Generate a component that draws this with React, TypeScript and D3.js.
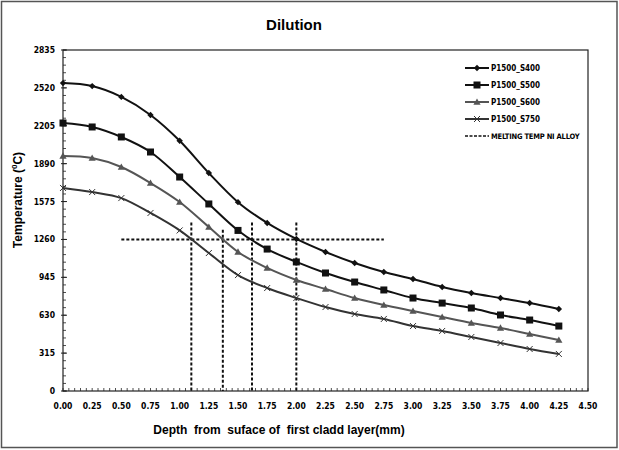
import * as d3 from 'd3';

const depth = [0, 0.25, 0.5, 0.75, 1.0, 1.25, 1.5, 1.75, 2.0, 2.25, 2.5, 2.75, 3.0, 3.25, 3.5, 3.75, 4.0, 4.25];
const s400 = [2560, 2535, 2445, 2295, 2080, 1812, 1570, 1397, 1264, 1156, 1064, 989, 931, 865, 815, 773, 731, 682];
const s500 = [2228, 2195, 2112, 1987, 1779, 1555, 1335, 1180, 1073, 981, 906, 840, 773, 731, 690, 632, 590, 540];
const s600 = [1954, 1937, 1862, 1729, 1571, 1363, 1156, 1023, 923, 848, 773, 715, 665, 615, 565, 524, 474, 424];
const s750 = [1688, 1654, 1604, 1480, 1335, 1147, 964, 856, 773, 698, 640, 599, 540, 499, 449, 399, 349, 308];
const seriesNames = ['P1500_S400', 'P1500_S500', 'P1500_S600', 'P1500_S750'];
const meltName = 'MELTING TEMP NI ALLOY';
const meltTemp = 1260;
const meltRange = [0.5, 2.75];
// depth where each series crosses the melting temp, and how high the guide goes
const crossDepth = [1.1, 1.37, 1.62, 2.0];
const crossTop = [1400, 1340, 1400, 1400];
const yTicks = [0, 315, 630, 945, 1260, 1575, 1890, 2205, 2520, 2835];
const xTicks = d3.range(0, 4.51, 0.25);

const W = 619;
const H = 450;
const margin = { top: 50, right: 31, bottom: 59, left: 63 };

const tickFont = "'Liberation Sans Narrow', 'DejaVu Sans Condensed', sans-serif";
const labelFont = "'Liberation Sans', Arial, sans-serif";

function Marker({ kind, x, y, color }: { kind: number; x: number; y: number; color: string }) {
  if (kind === 0) {
    const r = 3.2;
    return <path d={`M${x},${y - r}L${x + r},${y}L${x},${y + r}L${x - r},${y}Z`} fill={color} />;
  }
  if (kind === 1) {
    return <rect x={x - 3.5} y={y - 3.5} width={7} height={7} fill={color} />;
  }
  if (kind === 2) {
    return <path d={`M${x},${y - 3.6}L${x + 3.6},${y + 2.8}L${x - 3.6},${y + 2.8}Z`} fill={color} />;
  }
  return (
    <path d={`M${x - 3},${y - 3}L${x + 3},${y + 3}M${x - 3},${y + 3}L${x + 3},${y - 3}`} stroke={color} strokeWidth={1} />
  );
}

export default function App() {
  const x = d3.scaleLinear().domain([0, 4.5]).range([margin.left, W - margin.right]);
  const y = d3.scaleLinear().domain([0, 2835]).range([H - margin.bottom, margin.top]);
  const all = [s400, s500, s600, s750];
  const colors = ['#111', '#111', '#555', '#333'];
  const line = d3
    .line<number>()
    .x((_, i) => x(depth[i]))
    .y((d) => y(d))
    .curve(d3.curveCardinal.tension(0));

  const yMinor = d3.range(0, 2836, 63);
  const xMinor = d3.range(0, 4.501, 0.05);
  const x0 = x(0);
  const y0 = y(0);

  return (
    <svg width={W} height={H} style={{ position: 'absolute', left: 0, top: 0 }}>
      <rect x={0} y={0} width={W} height={H} fill="#fff" />
      <rect x={1.5} y={1.5} width={615.5} height={446} fill="none" stroke="#555" strokeWidth={1.5} />

      <text x={294} y={30} textAnchor="middle" fontFamily={labelFont} fontWeight="bold" fontSize={15}>
        Dilution
      </text>

      {/* plot box */}
      <rect x={x0} y={y(2835)} width={x(4.5) - x0} height={y0 - y(2835)} fill="none" stroke="#222" strokeWidth={1.2} />

      {/* y ticks */}
      {yMinor.map((v) => (
        <line key={'ym' + v} x1={x0} x2={x0 + 3} y1={y(v)} y2={y(v)} stroke="#222" strokeWidth={0.8} />
      ))}
      {yTicks.map((v) => (
        <g key={'yt' + v}>
          <line x1={x0 - 2} x2={x0 + 4} y1={y(v)} y2={y(v)} stroke="#222" strokeWidth={1} />
          <text x={55} y={y(v) + 3} textAnchor="end" fontFamily={tickFont} fontWeight="bold" fontSize={8.5}>
            {v}
          </text>
        </g>
      ))}

      {/* x ticks */}
      {xMinor.map((v, i) => (
        <line key={'xm' + i} x1={x(v)} x2={x(v)} y1={y0} y2={y0 - 3} stroke="#222" strokeWidth={0.8} />
      ))}
      {xTicks.map((v) => (
        <text key={'xt' + v} x={x(v)} y={409} textAnchor="middle" fontFamily={tickFont} fontWeight="bold" fontSize={8.5}>
          {v.toFixed(2)}
        </text>
      ))}

      {/* melting temp guides */}
      <line
        x1={x(meltRange[0])}
        x2={x(meltRange[1])}
        y1={y(meltTemp)}
        y2={y(meltTemp)}
        stroke="#111"
        strokeWidth={2}
        strokeDasharray="3,2"
      />
      {crossDepth.map((d, i) => (
        <line
          key={'cd' + i}
          x1={x(d)}
          x2={x(d)}
          y1={y(crossTop[i])}
          y2={y0}
          stroke="#111"
          strokeWidth={2}
          strokeDasharray="3,2"
        />
      ))}

      {/* series */}
      {all.map((vals, k) => (
        <g key={'s' + k}>
          <path d={line(vals) || ''} fill="none" stroke={colors[k]} strokeWidth={2} />
          {vals.map((v, i) => (
            <Marker key={i} kind={k} x={x(depth[i])} y={y(v)} color={colors[k]} />
          ))}
        </g>
      ))}

      {/* legend */}
      {seriesNames.map((n, k) => {
        const ly = 68 + k * 17;
        return (
          <g key={'lg' + n}>
            <line x1={465} x2={489} y1={ly} y2={ly} stroke={colors[k]} strokeWidth={2} />
            <Marker kind={k} x={477} y={ly} color={colors[k]} />
            <text x={491} y={ly + 3} fontFamily={tickFont} fontWeight="bold" fontSize={8}>
              {n}
            </text>
          </g>
        );
      })}
      <line x1={465} x2={489} y1={68 + 4 * 17} y2={68 + 4 * 17} stroke="#111" strokeWidth={1.5} strokeDasharray="3,1.5" />
      <text x={491} y={68 + 4 * 17 + 3} fontFamily={tickFont} fontWeight="bold" fontSize={7.5} letterSpacing={-0.2}>
        {meltName}
      </text>

      {/* axis titles */}
      <text
        x={279}
        y={434}
        textAnchor="middle"
        fontFamily={labelFont}
        fontWeight="bold"
        fontSize={12}
        style={{ whiteSpace: 'pre' }}
      >
        {'Depth  from  suface of  first cladd layer(mm)'}
      </text>
      <text
        transform="translate(22,200) rotate(-90)"
        textAnchor="middle"
        fontFamily={labelFont}
        fontWeight="bold"
        fontSize={12}
      >
        Temperature (<tspan fontSize={8} dy={-5}>0</tspan>
        <tspan dy={5}>C)</tspan>
      </text>
    </svg>
  );
}
